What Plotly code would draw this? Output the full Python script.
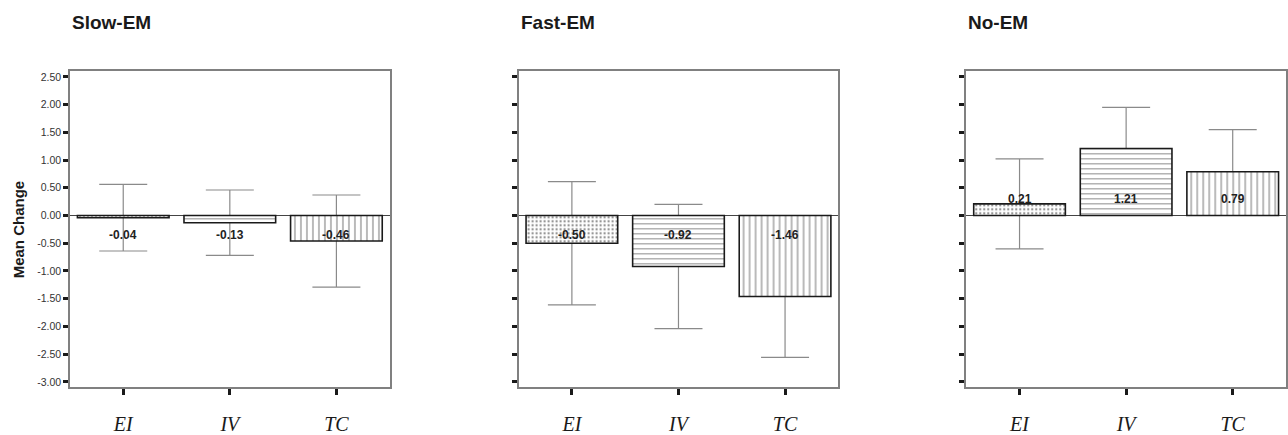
import plotly.graph_objects as go

categories = ["EI", "IV", "TC"]
panel_titles = ["Slow-EM", "Fast-EM", "No-EM"]
slow_means = [-0.04, -0.13, -0.46]
slow_errs = [0.60, 0.59, 0.83]
fast_means = [-0.50, -0.92, -1.46]
fast_errs = [1.11, 1.12, 1.10]
no_means = [0.21, 1.21, 0.79]
no_errs = [0.81, 0.74, 0.76]
y_ticks = [-3.0, -2.5, -2.0, -1.5, -1.0, -0.5, 0.0, 0.5, 1.0, 1.5, 2.0, 2.5]

means = [slow_means, fast_means, no_means]
errs = [slow_errs, fast_errs, no_errs]
shapes_pat = [".", "-", "|"]

W, H = 1288, 435
x_doms = [[70 / W, 390 / W], [519 / W, 839 / W], [967 / W, 1287 / W]]
y_dom = [1 - 390 / H, 1 - 71 / H]
FONT = "Liberation Sans, Arial, sans-serif"

fig = go.Figure()
annotations = []
for i in range(3):
    xa = "x" if i == 0 else f"x{i+1}"
    ya = "y" if i == 0 else f"y{i+1}"
    # error bars first (behind bars)
    fig.add_trace(go.Bar(
        x=categories, y=means[i], xaxis=xa, yaxis=ya, width=0.86,
        marker=dict(color="rgba(0,0,0,0)", line=dict(width=0)),
        error_y=dict(type="data", array=errs[i], visible=True,
                     color="#8a8a8a", thickness=1.2, width=24),
        showlegend=False, hoverinfo="skip"))
    fig.add_trace(go.Bar(
        x=categories, y=means[i], xaxis=xa, yaxis=ya, width=0.86,
        marker=dict(color="white",
                    line=dict(color="#1a1a1a", width=1.6),
                    pattern=dict(shape=shapes_pat, fgcolor="#1a1a1a",
                                 bgcolor="white", size=[4, 5, 6],
                                 solidity=[0.25, 0.2, 0.2])),
        showlegend=False))
    for c, v in zip(categories, means[i]):
        annotations.append(dict(
            x=c, y=(-0.35 if v < 0 else 0.29), xref=xa, yref=ya,
            text=f"{v:.2f}", showarrow=False,
            font=dict(family=FONT, size=12, color="#222222", weight="bold")))
    annotations.append(dict(
        x=0, xref=f"{xa} domain", y=1 - 22 / H, yref="paper",
        xanchor="left", yanchor="middle", text=f"<b>{panel_titles[i]}</b>",
        showarrow=False, font=dict(family=FONT, size=19, color="#1a1a1a")))

    xaxis = dict(domain=x_doms[i], anchor=ya, type="category",
                 range=[-0.5, 2.5], showline=True, linecolor="#808080",
                 linewidth=1.5, mirror=True, ticks="outside", ticklen=6,
                 tickwidth=2.5, tickcolor="#1a1a1a", showgrid=False,
                 zeroline=False, ticklabelstandoff=12,
                 tickfont=dict(family="Liberation Serif, Times New Roman, serif",
                               size=20, color="#1a1a1a", style="italic"))
    yaxis = dict(domain=y_dom, anchor=xa, range=[-3.1, 2.6],
                 showline=True, linecolor="#808080", linewidth=1.5,
                 mirror=True, ticks="outside", ticklen=5, tickwidth=2.5,
                 tickcolor="#1a1a1a", showgrid=False, zeroline=True,
                 zerolinecolor="#444444", zerolinewidth=1,
                 tickvals=y_ticks, ticktext=[f"{t:.2f}" for t in y_ticks],
                 showticklabels=(i == 0),
                 tickfont=dict(family=FONT, size=10.5, color="#333333"))
    fig.update_layout(**{("xaxis" if i == 0 else f"xaxis{i+1}"): xaxis,
                         ("yaxis" if i == 0 else f"yaxis{i+1}"): yaxis})

annotations.append(dict(
    x=18 / W, xref="paper", y=(y_dom[0] + y_dom[1]) / 2, yref="paper",
    text="<b>Mean Change</b>", textangle=-90, showarrow=False,
    xanchor="center", yanchor="middle",
    font=dict(family=FONT, size=15, color="#1a1a1a")))

fig.update_layout(width=W, height=H, margin=dict(l=0, r=0, t=0, b=0),
                  paper_bgcolor="white", plot_bgcolor="white",
                  barmode="overlay", annotations=annotations,
                  font=dict(family=FONT))
fig.write_html("out.html", config={"displayModeBar": False})

# remove default page margin so the figure sits at the window's top-left
with open("out.html", encoding="utf-8") as f:
    html = f.read()
html = html.replace("<head>", "<head><style>html,body{margin:0;padding:0;overflow:hidden;}</style>", 1)
with open("out.html", "w", encoding="utf-8") as f:
    f.write(html)
